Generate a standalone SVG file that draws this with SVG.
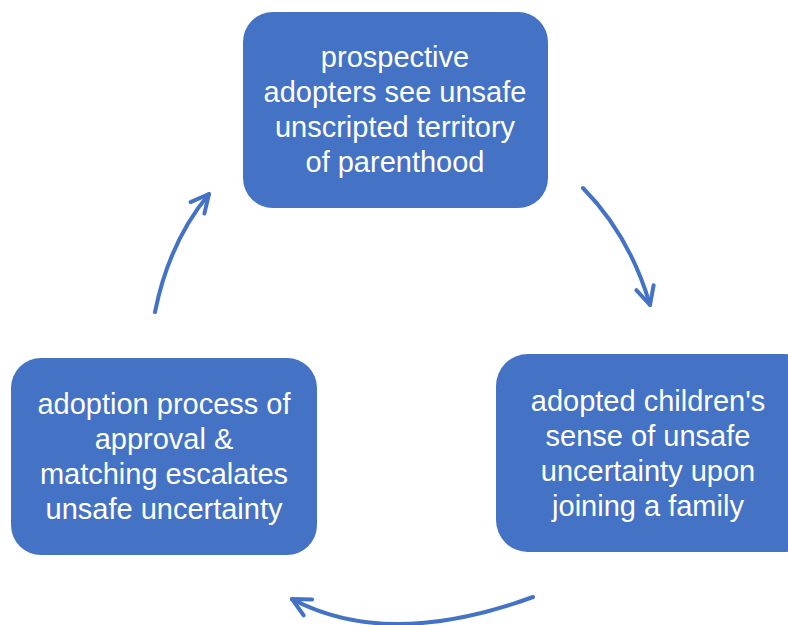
<svg xmlns="http://www.w3.org/2000/svg" width="788" height="625" viewBox="0 0 788 625">
<style>
.box{fill:#4472C4;}
.lbl{font-family:"Liberation Sans",Arial,sans-serif;font-size:29px;fill:#FFFFFF;text-anchor:middle;}
.arc{fill:none;stroke:#4472C4;stroke-width:4;stroke-linecap:round;}
</style>
<defs>
<marker id="head" markerUnits="userSpaceOnUse" viewBox="-24 -14 28 28" refX="0" refY="0" markerWidth="28" markerHeight="28" orient="auto" overflow="visible">
<path d="M-18,-9 L0,0 L-18,9" fill="none" stroke="#4472C4" stroke-width="4" stroke-linecap="round" stroke-linejoin="round"/>
</marker>
</defs>
<rect width="788" height="625" fill="#FFFFFF"/>
<g id="node-top">
<rect class="box" x="243" y="12" width="305" height="196" rx="30" ry="30"/>
<text class="lbl" x="395" y="67">prospective</text>
<text class="lbl" x="395" y="102">adopters see unsafe</text>
<text class="lbl" x="395" y="137">unscripted territory</text>
<text class="lbl" x="395" y="172">of parenthood</text>
</g>
<g id="node-right">
<rect class="box" x="496" y="354" width="320" height="198" rx="32" ry="32"/>
<text class="lbl" x="648" y="411">adopted children's</text>
<text class="lbl" x="648" y="446">sense of unsafe</text>
<text class="lbl" x="648" y="481">uncertainty upon</text>
<text class="lbl" x="648" y="516">joining a family</text>
</g>
<g id="node-left">
<rect class="box" x="11" y="358" width="306" height="197" rx="30" ry="30"/>
<text class="lbl" x="164" y="414">adoption process of</text>
<text class="lbl" x="164" y="449">approval &amp;</text>
<text class="lbl" x="164" y="484">matching escalates</text>
<text class="lbl" x="164" y="519">unsafe uncertainty</text>
</g>
<g id="connectors">
<path class="arc" d="M583,188 Q630,236 650,305" marker-end="url(#head)"/>
<path class="arc" d="M533,597 Q388,650 292,599" marker-end="url(#head)"/>
<path class="arc" d="M155,312 Q169,242 209,194" marker-end="url(#head)"/>
</g>
</svg>
